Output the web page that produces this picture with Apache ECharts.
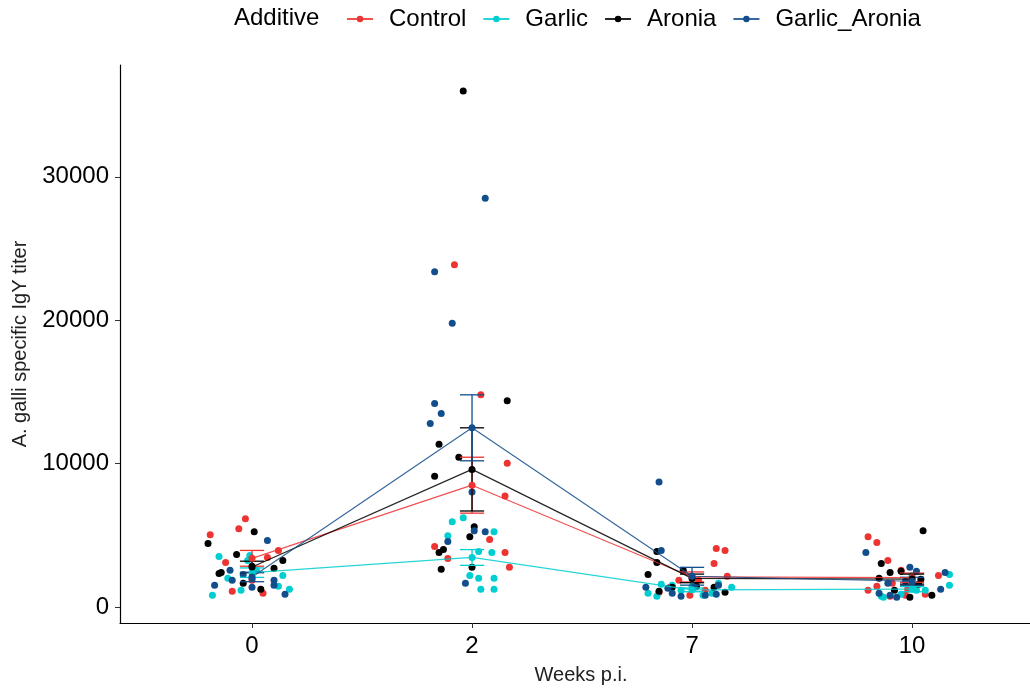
<!DOCTYPE html>
<html>
<head>
<meta charset="utf-8">
<script src="https://cdn.jsdelivr.net/npm/echarts@6/dist/echarts.min.js"></script>
<style>html,body{margin:0;padding:0;background:#fff}#c{width:1030px;height:690px}</style>
</head>
<body>
<div id="c"></div>
<script>
// ---- data ----
const weeks = ['0', '2', '7', '10'];
const groups = ['Control', 'Garlic', 'Aronia', 'Garlic_Aronia'];

// jittered observations: [jitter offset (category units), titer] per week
const controlPts = [
  [[-0.19,5050],[-0.06,5470],[-0.03,6160],[0.12,3940],[0.07,3460],[-0.12,3110],[-0.09,1110],[0.05,970],[0.0,1870]],
  [[-0.17,4220],[0.08,4710],[0.15,3810],[-0.11,3390],[0.17,2770],[0.04,14810],[0.16,10030],[-0.08,23870],[0.15,7750]],
  [[0.11,4080],[0.15,3940],[0.1,3040],[0.16,2150],[-0.06,1870],[0.03,1870],[0.06,1180],[-0.15,1040],[-0.01,830],[-0.1,1380]],
  [[-0.2,4910],[-0.16,4500],[-0.11,3250],[0.12,2210],[-0.2,1180],[-0.09,1660],[-0.05,2560],[-0.02,1250],[-0.16,1450],[0.06,900],[-0.1,760],[-0.03,830]]
];
const garlicPts = [
  [[-0.15,3530],[-0.01,3600],[0.14,2210],[-0.11,2010],[0.17,1250],[-0.05,1180],[-0.18,830],[0.02,2560],[-0.02,3250],[0.12,1450]],
  [[-0.09,5950],[-0.04,6230],[-0.11,4980],[0.1,5260],[0.03,3880],[0.09,3810],[-0.01,2210],[0.03,2010],[0.1,2010],[0.04,1250],[0.1,1250]],
  [[-0.2,970],[-0.16,760],[-0.14,1590],[-0.05,1180],[0.0,1450],[0.09,970],[0.18,1380],[0.12,1660],[-0.09,1520],[0.05,830]],
  [[0.17,2280],[0.17,1520],[0.06,1180],[-0.14,760],[-0.13,690],[-0.05,900],[0.0,2210],[0.02,1180]]
];
const aroniaPts = [
  [[0.01,5260],[-0.2,4430],[-0.07,3670],[0.14,3250],[-0.15,2350],[-0.14,2420],[0.0,2840],[0.1,2700],[-0.04,1660],[0.04,1250]],
  [[0.01,5600],[-0.01,4910],[-0.13,4010],[-0.15,3810],[-0.14,2630],[0.0,2770],[0.16,14390],[-0.15,11350],[-0.06,10450],[-0.17,9130],[-0.04,35980]],
  [[-0.16,3880],[-0.16,3110],[-0.2,2280],[-0.04,2560],[0.1,1380],[0.15,1040],[-0.15,1110],[-0.09,1380],[0.02,1450]],
  [[0.05,5330],[-0.14,3040],[-0.1,2420],[-0.15,2010],[0.04,1940],[0.03,1590],[0.09,830],[-0.01,690],[-0.05,2490],[-0.08,1180]]
];
const garlicAroniaPts = [
  [[0.07,4640],[-0.1,2560],[-0.09,1870],[-0.17,1520],[-0.04,2280],[0.0,2010],[0.1,1870],[0.1,1520],[0.0,1380],[0.15,900]],
  [[0.01,5330],[0.06,5260],[-0.11,4570],[-0.03,1660],[-0.17,14190],[-0.14,13490],[-0.19,12800],[0.0,8030],[0.06,28510],[-0.17,23390],[-0.09,19790]],
  [[-0.15,8720],[-0.14,3940],[-0.21,1380],[-0.05,760],[0.11,900],[0.12,1520],[-0.11,1310],[0.01,1380],[0.06,830],[-0.09,970]],
  [[-0.21,3810],[-0.01,2770],[0.02,2490],[0.15,2420],[0.13,1250],[-0.03,1800],[-0.11,1660],[-0.1,830],[-0.07,690],[-0.15,970]]
];

// group means and standard errors per week
const controlMean = [3400, 8500, 2100, 2050];
const controlSE   = [550, 1950, 350, 320];
const garlicMean  = [2400, 3460, 1200, 1250];
const garlicSE    = [330, 550, 130, 180];
const aroniaMean  = [2800, 9600, 2000, 1950];
const aroniaSE    = [400, 2900, 300, 350];
const garlicAroniaMean = [2100, 12500, 2150, 1800];
const garlicAroniaSE   = [330, 2300, 620, 280];

const yTicks = [0, 10000, 20000, 30000];

// ---- chart ----
const colors = ['#EE3333', '#00CED1', '#000000', '#134E8C'];
const pts = [controlPts, garlicPts, aroniaPts, garlicAroniaPts];
const means = [controlMean, garlicMean, aroniaMean, garlicAroniaMean];
const ses = [controlSE, garlicSE, aroniaSE, garlicAroniaSE];
const FONT = '"Liberation Sans", Arial, sans-serif';

const series = [];
groups.forEach((g, gi) => {
  const d = [];
  pts[gi].forEach((wk, wi) => wk.forEach(p => d.push([wi + p[0], p[1]])));
  series.push({
    name: g + ' obs', type: 'scatter', data: d, symbolSize: 7,
    itemStyle: { color: colors[gi], opacity: 1 }, z: 2, silent: true
  });
});
groups.forEach((g, gi) => {
  series.push({
    name: g, type: 'line', data: means[gi].map((m, wi) => [wi, m]),
    symbol: 'circle', symbolSize: 7, showSymbol: true,
    itemStyle: { color: colors[gi] },
    lineStyle: { color: colors[gi], width: 1.2, opacity: 0.85 }, z: 4
  });
  series.push({
    name: g + ' se', type: 'custom', z: 3,
    data: means[gi].map((m, wi) => [wi, m, ses[gi][wi]]),
    renderItem: (params, api) => {
      const x = api.value(0), m = api.value(1), s = api.value(2);
      const t = api.coord([x, m + s]), b = api.coord([x, m - s]);
      const hw = api.size([0.055, 0])[0];
      const st = { stroke: colors[gi], lineWidth: 1.3, fill: null };
      return { type: 'group', children: [
        { type: 'line', shape: { x1: t[0], y1: t[1], x2: b[0], y2: b[1] }, style: st },
        { type: 'line', shape: { x1: t[0] - hw, y1: t[1], x2: t[0] + hw, y2: t[1] }, style: st },
        { type: 'line', shape: { x1: b[0] - hw, y1: b[1], x2: b[0] + hw, y2: b[1] }, style: st }
      ]};
    }
  });
});

const chart = echarts.init(document.getElementById('c'), null, { renderer: 'canvas' });
chart.setOption({
  animation: false,
  backgroundColor: '#fff',
  textStyle: { fontFamily: FONT },
  grid: { left: 120, right: 0, top: 65, bottom: 63, containLabel: false },
  legend: {
    data: groups, left: 341, top: 2, itemWidth: 26, itemHeight: 8, itemGap: 16,
    textStyle: { fontSize: 24, color: '#000', fontFamily: FONT, padding: [0, 0, 0, 11] }
  },
  graphic: [{
    type: 'text', left: 234, top: 6,
    style: { text: 'Additive', fontSize: 24, fill: '#000', fontFamily: FONT }
  }],
  xAxis: {
    type: 'value', min: -0.6, max: 3.536,
    name: 'Weeks p.i.', nameLocation: 'middle', nameGap: 42,
    nameTextStyle: { fontSize: 20, color: '#222', fontFamily: FONT, padding: [0, 0, 0, 12] },
    axisLine: { show: true, onZero: false, lineStyle: { color: '#000', width: 1.2 } },
    axisTick: { show: true, length: 5, customValues: [0, 1, 2, 3], lineStyle: { color: '#333' } },
    axisLabel: { customValues: [0, 1, 2, 3], formatter: v => weeks[Math.round(v)], fontSize: 24, color: '#000', margin: 11, fontFamily: FONT },
    splitLine: { show: false }
  },
  yAxis: {
    type: 'value', min: -1110, max: 37800,
    name: 'A. galli specific IgY titer', nameLocation: 'middle', nameGap: 90, nameRotate: 90,
    nameTextStyle: { fontSize: 20, color: '#222', fontFamily: FONT },
    axisLine: { show: true, onZero: false, lineStyle: { color: '#000', width: 1.2 } },
    axisTick: { show: true, length: 5, customValues: yTicks, lineStyle: { color: '#333' } },
    axisLabel: { customValues: yTicks, formatter: v => String(Math.round(v)), fontSize: 24, color: '#000', margin: 11, fontFamily: FONT },
    splitLine: { show: false }
  },
  series: series
});
</script>
</body>
</html>
